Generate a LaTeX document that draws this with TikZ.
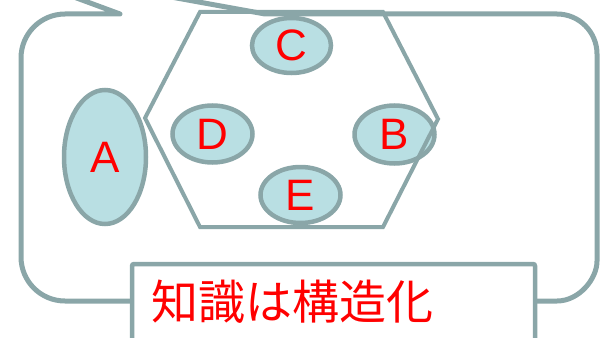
\documentclass[tikz,border=0pt]{standalone}
\usepackage{fontspec}
\setmainfont{Liberation Sans}
\newfontfamily\cjk{Noto Sans CJK JP}
\usetikzlibrary{shapes.geometric}
\definecolor{edgegray}{RGB}{138,166,168}
\definecolor{cellfill}{RGB}{185,223,227}
\definecolor{txtred}{RGB}{255,0,0}
\tikzset{
  bubble/.style={draw=edgegray, line width=5pt, line join=round},
  hexline/.style={draw=edgegray, line width=4pt},
  cell/.style={ellipse, draw=edgegray, fill=cellfill, line width=4.5pt, inner sep=0pt,
    text=txtred, font=\fontsize{44}{44}\selectfont},
  titlebox/.style={rectangle, draw=edgegray, fill=white, line width=4.5pt, rounded corners=2pt,
    minimum width=403pt, minimum height=86pt, inner sep=0pt},
  titletext/.style={anchor=west, inner sep=0pt, text=txtred, font=\cjk\fontsize{47}{47}\selectfont}
}
\begin{document}
\begin{tikzpicture}[x=1pt,y=-1pt]
\useasboundingbox (0,0) rectangle (601,337);
\begin{scope}
\clip (0,0) rectangle (601,337);
% speech bubble with tail
\draw[bubble] (40,-15.5) -- (120,14) -- (65,14)
  .. controls (40.7,14) and (21,33.7) .. (21,58) -- (21,257)
  .. controls (21,281.3) and (40.7,301) .. (65,301) -- (557,301)
  .. controls (579.1,301) and (597,278.9) .. (597,261) -- (597,54)
  .. controls (597,31.9) and (579.1,14) .. (557,14) -- (265,14) -- (160,-5);
% ellipses
\node[cell, minimum width=82pt, minimum height=134pt] (A) at (105,157) {A};
\node[cell, minimum width=80pt, minimum height=57pt] (D) at (212.5,134) {D};
\node[cell, minimum width=79pt, minimum height=55pt] (C) at (291.5,45.5) {C};
\node[cell, minimum width=80pt, minimum height=58pt] (B) at (394.5,134.5) {B};
\node[cell, minimum width=80pt, minimum height=56pt] (E) at (300.5,195) {E};
% hexagon
\draw[hexline] (200,12) -- (383,12) -- (438,119) -- (383,227) -- (200,227) -- (145,118) -- cycle;
% title box
\node[titlebox] (box) at (333.5,307) {};
\node[titletext] (title) at (151,302) {知識は構造化};
\end{scope}
\end{tikzpicture}
\end{document}
